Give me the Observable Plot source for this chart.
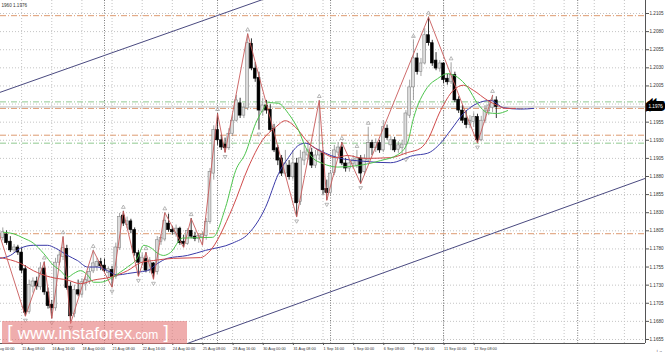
<!DOCTYPE html>
<html><head><meta charset="utf-8">
<script src="https://cdn.jsdelivr.net/npm/d3@7"></script>
<script src="https://cdn.jsdelivr.net/npm/@observablehq/plot@0.6"></script>
<style>
body{margin:0;background:#fff;}
#wrap{position:relative;width:665px;height:354px;overflow:hidden;font-family:"Liberation Sans",sans-serif;}
#wm{position:absolute;left:2px;top:321px;width:185px;height:23px;background:rgba(228,118,118,0.6);color:#fff;font-family:"Liberation Sans",Arial,sans-serif;white-space:nowrap;line-height:23px;}
#wm .b{font-size:19px;font-weight:200;position:relative;top:-1px;}
#wm .w{font-size:17px;}
#wm .c{font-size:12px;}
</style></head>
<body><div id="wrap"><div id="chart"></div><div id="wm"><span class="b">&nbsp;[&nbsp;</span><span class="w">www.instaforex</span><span class="c">.com</span><span class="b">&nbsp;]</span></div></div>
<script>
// ---- data (EURUSD H4) ----
const firstBar = 2;
const opens = [1.1800,1.1795,1.1800,1.1790,1.1778,1.1782,1.1775,1.1752,1.1693,1.1728,1.1735,1.1727,1.1753,1.1720,1.1703,1.1698,1.1761,1.1769,1.1780,1.1728,1.1690,1.1723,1.1717,1.1731,1.1735,1.1749,1.1755,1.1762,1.1757,1.1747,1.1751,1.1741,1.1781,1.1826,1.1813,1.1818,1.1806,1.1774,1.1761,1.1766,1.1750,1.1760,1.1748,1.1790,1.1793,1.1815,1.1806,1.1800,1.1808,1.1790,1.1787,1.1805,1.1797,1.1794,1.1796,1.1798,1.1817,1.1884,1.1944,1.1930,1.1924,1.1919,1.1939,1.1957,1.1981,1.1964,1.1974,1.2063,1.2029,1.2016,1.1969,1.1978,1.1972,1.1946,1.1919,1.1905,1.1884,1.1895,1.1879,1.1898,1.1845,1.1902,1.1909,1.1913,1.1895,1.1909,1.1912,1.1863,1.1857,1.1885,1.1913,1.1920,1.1898,1.1891,1.1897,1.1895,1.1905,1.1886,1.1902,1.1926,1.1919,1.1926,1.1916,1.1946,1.1923,1.1930,1.1917,1.1919,1.1924,1.1964,1.2003,1.2043,1.2024,1.2036,1.2075,1.2064,1.2040,1.2029,1.2036,1.2015,1.2010,1.2020,1.1986,1.1971,1.1960,1.1951,1.1955,1.1962,1.1930,1.1957,1.1970,1.1975,1.1985];
const highs = [1.1808,1.1809,1.1805,1.1797,1.1786,1.1785,1.1781,1.1757,1.1737,1.1740,1.1741,1.1761,1.1762,1.1726,1.1709,1.1767,1.1778,1.1797,1.1785,1.1734,1.1730,1.1737,1.1739,1.1742,1.1753,1.1778,1.1767,1.1767,1.1766,1.1755,1.1756,1.1788,1.1829,1.1832,1.1824,1.1821,1.1809,1.1778,1.1774,1.1775,1.1768,1.1761,1.1797,1.1800,1.1830,1.1828,1.1811,1.1813,1.1810,1.1799,1.1808,1.1822,1.1803,1.1801,1.1803,1.1822,1.1891,1.1950,1.1967,1.1937,1.1933,1.1946,1.1964,1.1992,1.1988,1.1981,1.2077,1.2070,1.2037,1.2024,1.1988,1.1985,1.1979,1.1952,1.1923,1.1909,1.1916,1.1902,1.1916,1.1905,1.1916,1.1923,1.1930,1.1919,1.1916,1.1985,1.1916,1.1875,1.1888,1.1923,1.1927,1.1927,1.1905,1.1902,1.1909,1.1916,1.1909,1.1910,1.1948,1.1930,1.1932,1.1930,1.1957,1.1951,1.1935,1.1934,1.1928,1.1930,1.1971,1.2013,1.2068,1.2050,1.2043,1.2084,1.2100,1.2068,1.2051,1.2040,1.2037,1.2021,1.2037,1.2024,1.1990,1.1978,1.1971,1.1964,1.1968,1.1966,1.1963,1.1978,1.1985,1.1992,1.1990];
const lows = [1.1793,1.1791,1.1785,1.1775,1.1774,1.1771,1.1746,1.1687,1.1690,1.1719,1.1723,1.1723,1.1716,1.1697,1.1684,1.1694,1.1757,1.1764,1.1723,1.1677,1.1685,1.1714,1.1713,1.1722,1.1731,1.1746,1.1749,1.1750,1.1747,1.1739,1.1727,1.1738,1.1778,1.1811,1.1808,1.1801,1.1770,1.1742,1.1757,1.1747,1.1746,1.1738,1.1744,1.1785,1.1790,1.1803,1.1799,1.1796,1.1785,1.1782,1.1785,1.1794,1.1790,1.1788,1.1785,1.1792,1.1814,1.1875,1.1923,1.1916,1.1913,1.1916,1.1935,1.1955,1.1960,1.1960,1.1971,1.2026,1.2010,1.1944,1.1963,1.1966,1.1941,1.1913,1.1895,1.1880,1.1880,1.1875,1.1875,1.1824,1.1840,1.1895,1.1902,1.1891,1.1891,1.1902,1.1854,1.1847,1.1854,1.1881,1.1909,1.1895,1.1886,1.1886,1.1891,1.1891,1.1870,1.1881,1.1899,1.1909,1.1913,1.1912,1.1913,1.1930,1.1916,1.1913,1.1912,1.1909,1.1909,1.1960,1.1985,1.2020,1.2018,1.2034,1.2060,1.2032,1.2026,1.2024,1.2008,1.2006,1.2007,1.1982,1.1967,1.1953,1.1946,1.1946,1.1948,1.1926,1.1928,1.1953,1.1964,1.1968,1.1960];
const closes = [1.1797,1.1803,1.1788,1.1778,1.1782,1.1775,1.1750,1.1692,1.1730,1.1735,1.1728,1.1753,1.1720,1.1701,1.1698,1.1761,1.1771,1.1781,1.1726,1.1687,1.1723,1.1717,1.1734,1.1737,1.1748,1.1760,1.1762,1.1756,1.1750,1.1752,1.1741,1.1782,1.1824,1.1815,1.1818,1.1806,1.1774,1.1761,1.1768,1.1750,1.1764,1.1746,1.1792,1.1795,1.1819,1.1806,1.1803,1.1808,1.1788,1.1787,1.1805,1.1797,1.1794,1.1798,1.1799,1.1817,1.1886,1.1944,1.1930,1.1920,1.1919,1.1939,1.1957,1.1985,1.1964,1.1975,1.2064,1.2029,1.2015,1.1971,1.1978,1.1971,1.1944,1.1916,1.1902,1.1884,1.1898,1.1879,1.1898,1.1843,1.1905,1.1913,1.1916,1.1895,1.1909,1.1916,1.1861,1.1857,1.1884,1.1916,1.1920,1.1898,1.1891,1.1898,1.1902,1.1905,1.1884,1.1905,1.1926,1.1919,1.1926,1.1916,1.1948,1.1933,1.1930,1.1916,1.1923,1.1924,1.1967,1.2003,1.2043,1.2024,1.2036,1.2075,1.2064,1.2036,1.2029,1.2036,1.2013,1.2010,1.2020,1.1985,1.1971,1.1957,1.1951,1.1957,1.1962,1.1930,1.1957,1.1971,1.1978,1.1985,1.1976];

// Alligator lines: [bar, price]
const jawPts = [[2.4,1.1767],[5,1.1771],[7.7,1.1781],[11.1,1.1785],[14.9,1.1785],[17,1.1781],[20.2,1.1771],[22.8,1.1764],[25.5,1.1755],[28.1,1.1755],[30.8,1.1750],[33.4,1.1744],[36.1,1.1746],[38.8,1.1748],[41.4,1.1750],[44.1,1.1760],[46.7,1.1767],[52,1.1771],[56.8,1.1778],[64,1.1788],[68.2,1.1801],[72.7,1.1837],[76.2,1.1884],[78.8,1.1906],[81.5,1.1923],[83.4,1.1926],[86,1.1919],[88.7,1.1912],[91.9,1.1906],[98.8,1.1901],[105.9,1.1899],[112,1.1909],[115.7,1.1912],[119.2,1.1926],[121.9,1.1944],[125.3,1.1967],[129,1.1981],[132.5,1.1985],[135.9,1.1975],[140.4,1.1973],[143.9,1.1974]];
const teethPts = [[2.4,1.1768],[7.7,1.1760],[11.1,1.1750],[15.7,1.1741],[20.2,1.1737],[23.6,1.1732],[27.1,1.1737],[31.6,1.1741],[36.1,1.1750],[39.6,1.1761],[43,1.1764],[48.3,1.1767],[55.5,1.1768],[57.6,1.1775],[64,1.1837],[68.2,1.1893],[71.9,1.1930],[75.4,1.1948],[78,1.1957],[80.7,1.1948],[84.2,1.1926],[87.9,1.1913],[91.3,1.1906],[94.5,1.1909],[98.8,1.1905],[105.9,1.1906],[110.4,1.1913],[113.9,1.1919],[115.7,1.1930],[119.2,1.1971],[122.6,1.1999],[125.3,1.2006],[127.9,1.1999],[131.7,1.1985],[134.3,1.1978],[136.4,1.1974],[139.1,1.1974]];
const lipsPts = [[3.2,1.1803],[5.8,1.1801],[8.5,1.1795],[11.1,1.1788],[13.8,1.1774],[16.5,1.1757],[18.3,1.1750],[20.2,1.1741],[21.8,1.1746],[23.6,1.1750],[25.5,1.1744],[27.1,1.1734],[28.9,1.1734],[31.6,1.1739],[34.2,1.1748],[36.1,1.1755],[38.8,1.1768],[40.4,1.1785],[42.2,1.1782],[44.1,1.1774],[45.7,1.1771],[47.5,1.1775],[50.7,1.1795],[58.7,1.1796],[62.1,1.1837],[64.8,1.1888],[67.4,1.1912],[70.1,1.1953],[71.9,1.1971],[73.5,1.1982],[76.2,1.1981],[78.8,1.1967],[81.5,1.1944],[83.4,1.1920],[85.2,1.1906],[87.9,1.1898],[91.9,1.1893],[97.2,1.1895],[103.3,1.1902],[107.8,1.1910],[110.4,1.1926],[112,1.1960],[115.7,1.2003],[118.4,1.2015],[121,1.2022],[123.7,1.2017],[126.4,1.2003],[129,1.1981],[131.7,1.1968],[134.3,1.1967],[137,1.1971]];

// ZigZag pivots and fractals
const zigBars   = [1,9,14,16,19,21,27,32,35,39,41,43,46,51,53,56,60,62,68,81,87,89,93,98,116,129,133];
const zigPrices = [1.1818,1.1687,1.1762,1.1684,1.1797,1.1677,1.1778,1.1727,1.1832,1.1742,1.1775,1.1738,1.1830,1.1782,1.1822,1.1785,1.1967,1.1913,1.2077,1.1824,1.1985,1.1847,1.1927,1.1870,1.2100,1.1926,1.1992];
const fracUpBars = [14,19,27,35,41,46,53,60,68,87,93,97,100,112,116,122,133];
const fracDnBars = [9,16,21,32,39,43,62,71,81,89,98,110,129];

// levels
const orangeLevels = [1.2102,1.1974,1.1937,1.1801];
const greenLevels = [1.1983,1.1926];
const bid = 1.1976;
const channelUpper = [[0,1.1992],[74,1.2128]];
const channelLower = [[48,1.1642],[176,1.1882]];

// axes
const yTicks = [1.1655,1.1680,1.1705,1.1730,1.1755,1.1780,1.1805,1.1830,1.1855,1.1880,1.1905,1.1930,1.1955,1.1980,1.2005,1.2030,1.2055,1.2080,1.2105];
const xTickBars = [0,8,16,24,32,40,48,56,64,72,80,88,96,104,112,120,128];
const xTickLabels = ["14 Aug 00:00","15 Aug 08:00","16 Aug 16:00","18 Aug 00:00","21 Aug 08:00","22 Aug 16:00","24 Aug 00:00","25 Aug 08:00","28 Aug 16:00","30 Aug 00:00","31 Aug 08:00","1 Sep 16:00","5 Sep 00:00","6 Sep 08:00","7 Sep 16:00","11 Sep 00:00","12 Sep 08:00"];
const gridBars = [0,8,16,24,32,40,48,56,64,72,80,88,96,104,112,120,128,136,144,152,160,168];
const separatorBars = [30,60,90,120,155.6];
const header = "1960 1.1976";

// ---- build ----
const bars = opens.map((o,k)=>({i:firstBar+k,o,h:highs[k],l:lows[k],c:closes[k],up:closes[k]>=o}));
const zig = zigBars.map((b,k)=>({i:b,p:zigPrices[k]}));
const byI = new Map(bars.map(d=>[d.i,d]));
const fu = fracUpBars.map(b=>({i:b,p:byI.get(b).h}));
const fd = fracDnBars.map(b=>({i:b,p:byI.get(b).l}));
const line = (pts)=>pts.map(([i,p])=>({i,p}));
const lab = new Map(xTickBars.map((b,k)=>[b,xTickLabels[k]]));
const xDom=[2.39,173.6], yDom=[1.164945,1.212295];
const F = "Liberation Sans, Arial, sans-serif";

const chart = Plot.plot({
  width:665, height:354, marginLeft:0, marginRight:20, marginTop:0, marginBottom:11,
  style:{background:"#fff", fontFamily:F},
  x:{type:"linear", domain:xDom, axis:null},
  y:{domain:yDom, axis:null},
  marks:[
    Plot.gridY(yTicks,{stroke:"#c4c4c4",strokeOpacity:1,strokeDasharray:"1,2"}),
    Plot.gridX(gridBars,{stroke:"#c4c4c4",strokeOpacity:1,strokeDasharray:"1,2"}),
    Plot.ruleX(separatorBars,{stroke:"#7a7a7a",strokeDasharray:"1,1.5"}),
    Plot.ruleY(orangeLevels,{stroke:"#dd9a70",strokeDasharray:"6,2,1,2"}),
    Plot.ruleY(greenLevels,{stroke:"#8fc98f",strokeDasharray:"6,2,1,2"}),
    Plot.ruleY([bid],{stroke:"#bdbdbd"}),
    Plot.line(line(channelUpper),{x:"i",y:"p",stroke:"#4a4a80",strokeWidth:1,clip:true}),
    Plot.line(line(channelLower),{x:"i",y:"p",stroke:"#4a4a80",strokeWidth:1,clip:true}),
    Plot.ruleX(bars,{x:"i",y1:"l",y2:"h",stroke:d=>d.up?"#8a8a8a":"#000",strokeWidth:0.8}),
    Plot.rect(bars,{x1:d=>d.i-0.38,x2:d=>d.i+0.38,y1:"o",y2:"c",fill:d=>d.up?"#dcdcdc":"#000",stroke:d=>d.up?"#858585":"#000",strokeWidth:0.6}),
    Plot.line(line(jawPts),{x:"i",y:"p",stroke:"#3a3aa8",strokeWidth:1,curve:"monotone-x"}),
    Plot.line(line(teethPts),{x:"i",y:"p",stroke:"#d04a4a",strokeWidth:1,curve:"monotone-x"}),
    Plot.line(line(lipsPts),{x:"i",y:"p",stroke:"#4cc44c",strokeWidth:1,curve:"monotone-x"}),
    Plot.line(zig,{x:"i",y:"p",stroke:"#c85a5a",strokeWidth:0.9,clip:true}),
    Plot.dot(fu,{x:"i",y:"p",symbol:"triangle",r:1.4,dy:-4,stroke:"#999",fill:"none",strokeWidth:0.7}),
    Plot.dot(fd,{x:"i",y:"p",symbol:"triangle",rotate:180,r:1.4,dy:4,stroke:"#999",fill:"none",strokeWidth:0.7}),
    Plot.ruleX([xDom[1]],{stroke:"#555"}),
    Plot.ruleY([yDom[0]],{stroke:"#555"}),
    Plot.axisY(yTicks,{anchor:"right",tickSize:3,tickPadding:1,tickFormat:d=>d.toFixed(4),fontSize:4.6,fontFamily:F,fill:"#333",stroke:"#555",textAnchor:"start"}),
    Plot.axisX(xTickBars,{anchor:"bottom",tickSize:2,tickPadding:1.5,tickFormat:d=>lab.get(d),fontSize:3.8,fontFamily:F,fill:"#333",stroke:"#555",textAnchor:"start",dx:0.5}),
    Plot.text([bid],{y:d=>d,frameAnchor:"right",dx:3,text:d=>d.toFixed(4),textAnchor:"start",fontSize:4.6,fontFamily:F,fill:"#fff",stroke:"#000",strokeWidth:6,strokeLinejoin:"miter",paintOrder:"stroke"}),
    Plot.text([header],{frameAnchor:"top-left",dx:1,dy:3,text:d=>d,textAnchor:"start",fontSize:4.6,fontFamily:F,fill:"#333"})
  ]
});
document.getElementById("chart").appendChild(chart);
</script>
</body></html>
